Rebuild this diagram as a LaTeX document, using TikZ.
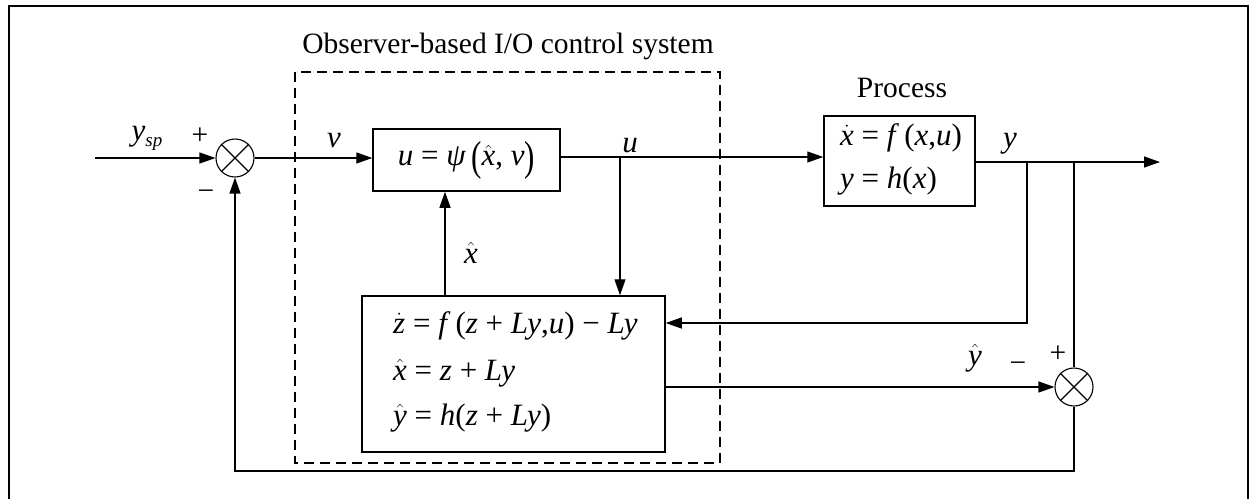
\documentclass[tikz,border=0pt]{standalone}
\usepackage[no-math]{fontspec}
\setmainfont{Liberation Serif}
\usetikzlibrary{arrows.meta}

% italic variable, hatted and dotted variables, tall parenthesis
\newcommand\iv[1]{\textit{#1}}
\newcommand\hv[1]{$\hat{\mbox{\itshape #1}}$}
\newcommand\dv[1]{$\dot{\mbox{\itshape #1}}$}
\newcommand\tallp[1]{\raisebox{-0.14em}{\scalebox{1}[1.35]{#1}}}
\newcommand\eqsz{\fontsize{31}{36}\selectfont}

\tikzset{
  blk/.style={draw, line width=1.5pt, inner sep=0pt},
  sumj/.style={draw, line width=1.1pt, circle, minimum size=38pt, inner sep=0pt},
  sig/.style={line width=1.3pt},
  arr/.style={sig, -{Triangle[length=16pt,width=11pt]}},
  lbl/.style={inner sep=0pt, font=\eqsz, anchor=base},
  eqn/.style={inner sep=0pt, font=\eqsz, anchor=base west},
  txt/.style={inner sep=0pt, font=\fontsize{29.5}{34}\selectfont, anchor=base},
}

\begin{document}
\begin{tikzpicture}[x=1pt,y=-1pt]
\useasboundingbox (0,0) rectangle (1251,499);

% outer frame (open at the bottom)
\draw[line width=2.8pt] (9,499) -- (9,6) -- (1248,6) -- (1248,499);

% observer-based controller enclosure
\draw[line width=2.6pt, dash pattern=on 10pt off 6pt] (295,72) rectangle (720,463);
\node[txt] (title) at (508,53) {Observer-based I/O control system};

% summing junctions
\node[sumj] (s1) at (235,158) {};
\draw[line width=1.1pt] (s1.north east) -- (s1.south west) (s1.north west) -- (s1.south east);
\node[sumj] (s2) at (1074,387) {};
\draw[line width=1.1pt] (s2.north east) -- (s2.south west) (s2.north west) -- (s2.south east);

% blocks
\node[blk, minimum width=187pt, minimum height=62pt, font=\eqsz] (ctrl) at (466.5,160)
  {\iv{u} = \iv{ψ}\,\tallp{(}\hv{x}, \iv{v}\tallp{)}};
\node[blk, minimum width=151pt, minimum height=90pt] (proc) at (899.5,161) {};
\node[eqn] (pe1) at (840,145) {\dv{x} = \iv{f}\,(\iv{x},\iv{u})};
\node[eqn] (pe2) at (840,188) {\iv{y} = \iv{h}(\iv{x})};
\node[txt] (ptitle) at (902,97) {Process};

\node[blk, minimum width=303pt, minimum height=156pt] (obs) at (513.5,374) {};
\node[eqn] (oe1) at (393,333) {\dv{z} = \iv{f}\,(\iv{z} + \iv{Ly},\iv{u}) − \iv{Ly}};
\node[eqn] (oe2) at (393,380) {\hv{x} = \iv{z} + \iv{Ly}};
\node[eqn] (oe3) at (393,425) {\hv{y} = \iv{h}(\iv{z} + \iv{Ly})};

% branch points and free ends
\coordinate (in) at (95,158);
\coordinate (ub) at (620,157);
\coordinate (yb1) at (1027,162);
\coordinate (yb2) at (1074,162);
\coordinate (out) at (1160,162);
\coordinate (bot) at (1074,471);

% connectors
\draw[arr] (in) -- (s1.west);
\draw[arr] (s1.east) -- (s1.east -| ctrl.west);
\draw[sig] (ctrl.east |- ub) -- (ub);
\draw[arr] (ub) -- (proc.west |- ub);
\draw[arr] (ub) -- (ub |- obs.north);
\draw[arr] (obs.north -| 445,0) -- (ctrl.south -| 445,0);
\draw[arr] (proc.east |- yb1) -- (out);
\draw[arr] (yb1) -- (1027,323) -- (obs.east |- 0,323);
\draw[sig] (yb2) -- (s2.north);
\draw[arr] (obs.east |- s2.west) -- (s2.west);
\draw[arr] (s2.south) -- (bot) -- (bot -| s1.south) -- (s1.south);

% signal labels and signs
\node[lbl] (lysp) at (147,140) {\iv{y}\raisebox{-6pt}{\fontsize{19}{19}\selectfont\itshape sp}};
\node[txt] (p1) at (200,144) {+};
\node[txt] (m1) at (206,200) {−};
\node[lbl] (lv) at (334,147) {\iv{v}};
\node[lbl] (lu) at (630,152) {\iv{u}};
\node[lbl] (ly) at (1010,147) {\iv{y}};
\node[lbl] (lxh) at (471,263) {\hv{x}};
\node[lbl] (lyh) at (975,365) {\hv{y}};
\node[txt] (m2) at (1018,372) {−};
\node[txt] (p2) at (1058,362) {+};
\end{tikzpicture}
\end{document}
